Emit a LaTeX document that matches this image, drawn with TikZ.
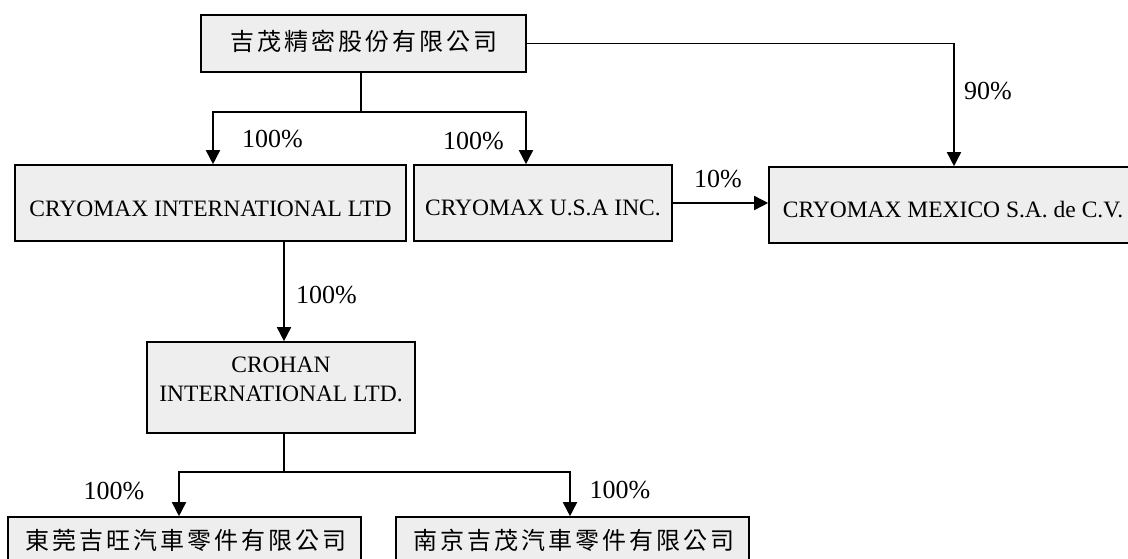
\documentclass[tikz,border=0pt]{standalone}
\usepackage{fontspec}
\setmainfont{Liberation Serif}
\newfontfamily\cjk{Noto Sans CJK TC}[LetterSpace=12.5]
\usetikzlibrary{arrows.meta}
\definecolor{boxgray}{HTML}{EEEEEE}
\begin{document}
\begin{tikzpicture}[x=1pt,y=-1pt,
 box/.style={draw=black, line width=1.6pt, fill=boxgray, inner sep=0pt},
 txt/.style={inner sep=0pt, font=\fontsize{23.5}{29}\selectfont, align=center},
 ctxt/.style={inner sep=0pt, font=\cjk\fontsize{24}{29}\selectfont},
 pct/.style={inner sep=0pt, font=\fontsize{26}{30}\selectfont},
 conn/.style={line width=1.6pt},
 arr/.style={line width=1.6pt, -{Triangle[width=14pt,length=14pt]}}]
\useasboundingbox (0,0) rectangle (1128,559);
% boxes
\node[box, minimum width=325pt, minimum height=57pt] (top) at (363.5,43.5) {};
\node[ctxt] (toptxt) at (364,41) {吉茂精密股份有限公司};
\node[box, minimum width=391pt, minimum height=76pt] (cint) at (210.5,203) {};
\node[txt] (cinttxt) at (210.5,209) {CRYOMAX INTERNATIONAL LTD};
\node[box, minimum width=258pt, minimum height=76pt] (usa) at (543,203) {};
\node[txt] (usatxt) at (543,208) {CRYOMAX U.S.A INC.};
\node[box, minimum width=361pt, minimum height=76pt] (mex) at (949.5,205) {};
\node[txt] (mextxt) at (953,210) {CRYOMAX MEXICO S.A. de C.V.};
\node[box, minimum width=268pt, minimum height=91pt] (crohan) at (281,387.5) {};
\node[txt] (crohantxt) at (281,379) {CROHAN\\INTERNATIONAL LTD.};
\node[box, minimum width=353pt, minimum height=46pt] (dg) at (184.5,540) {};
\node[ctxt] (dgtxt) at (186,540) {東莞吉旺汽車零件有限公司};
\node[box, minimum width=353pt, minimum height=46pt] (nj) at (572.5,540) {};
\node[ctxt] (njtxt) at (574,540) {南京吉茂汽車零件有限公司};
% junction coordinates
\coordinate (j1) at (361,112);
\coordinate (aL) at (213,112);
\coordinate (aR) at (526,112);
\coordinate (c90) at (954,43.5);
\coordinate (c3) at (284,300);
\coordinate (j2) at (284,472);
\coordinate (bL) at (179,472);
\coordinate (bR) at (570,472);
% connectors
\draw[conn] (top.south -| j1) -- (j1);
\draw[arr] (j1) -- (aL) -- (aL |- cint.north);
\draw[arr] (j1) -- (aR) -- (aR |- usa.north);
\draw[arr] (top.east) -- (c90) -- (c90 |- mex.north);
\draw[arr] (usa.east) -- (usa.east -| mex.west);
\draw[arr] (cint.south -| c3) -- (c3 |- crohan.north);
\draw[conn] (crohan.south -| j2) -- (j2);
\draw[arr] (j2) -- (bL) -- (bL |- dg.north);
\draw[arr] (j2) -- (bR) -- (bR |- nj.north);
% labels
\node[pct] (p1) at (272.5,139) {100\%};
\node[pct] (p2) at (473.5,141) {100\%};
\node[pct] (p3) at (988,91) {90\%};
\node[pct] (p4) at (718,179) {10\%};
\node[pct] (p5) at (326.5,295) {100\%};
\node[pct] (p6) at (114,491) {100\%};
\node[pct] (p7) at (620,490) {100\%};
\end{tikzpicture}
\end{document}
